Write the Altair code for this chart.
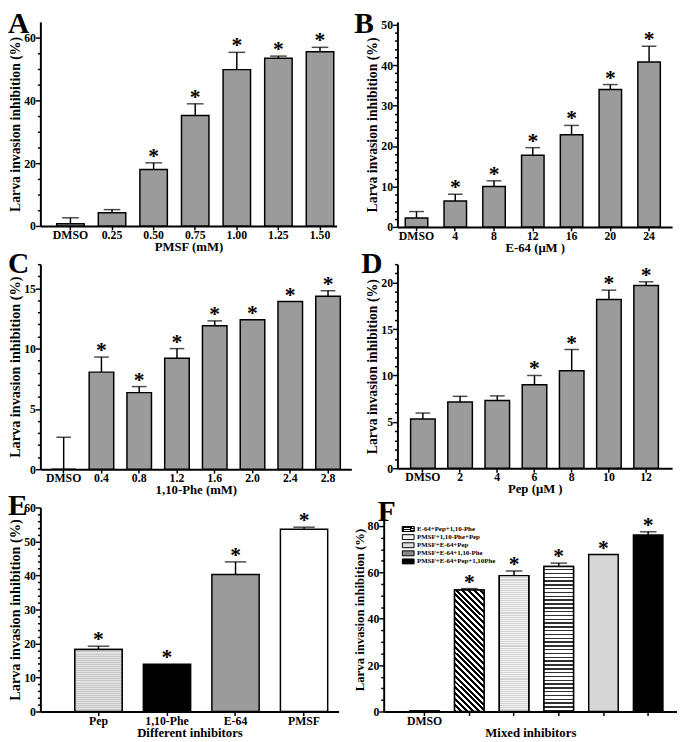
import altair as alt
import pandas as pd

FONT = "Liberation Serif"
BAR_GRAY = "#9b9b9b"
YTITLE = "Larva invasion inhibition (%)"

# ---------------- data ----------------
a_cats = ["DMSO", "0.25", "0.50", "0.75", "1.00", "1.25", "1.50"]
a_vals = [0.7, 4.2, 18.0, 35.2, 49.8, 53.4, 55.5]
a_errs = [1.9, 1.0, 2.1, 3.7, 5.5, 0.7, 1.4]
a_star = [0, 0, 1, 1, 1, 1, 1]

b_cats = ["DMSO", "4", "8", "12", "16", "20", "24"]
b_vals = [2.2, 6.4, 10.0, 17.7, 22.8, 34.0, 40.8]
b_errs = [1.6, 1.7, 1.4, 1.9, 2.3, 1.2, 3.9]
b_star = [0, 1, 1, 1, 1, 1, 1]

c_cats = ["DMSO", "0.4", "0.8", "1.2", "1.6", "2.0", "2.4", "2.8"]
c_vals = [0.0, 8.05, 6.35, 9.2, 11.9, 12.4, 13.9, 14.35]
c_errs = [2.65, 1.25, 0.5, 0.8, 0.4, 0.0, 0.0, 0.45]
c_star = [0, 1, 1, 1, 1, 1, 1, 1]

d_cats = ["DMSO", "2", "4", "6", "8", "10", "12"]
d_vals = [5.3, 7.15, 7.3, 9.0, 10.5, 18.2, 19.7]
d_errs = [0.65, 0.6, 0.5, 1.0, 2.3, 1.0, 0.4]
d_star = [0, 0, 0, 1, 1, 1, 1]

e_cats = ["Pep", "1,10-Phe", "E-64", "PMSF"]
e_vals = [18.2, 13.9, 40.3, 53.6]
e_errs = [1.0, 0.0, 3.7, 0.6]
e_star = [1, 1, 1, 1]
e_fill = ["#d6d6d6", "#000000", BAR_GRAY, "#ffffff"]

f_cats = ["DMSO", "E-64+Pep+1,10-Phe", "PMSF+1,10-Phe+Pep", "PMSF+E-64+Pep",
          "PMSF+E-64+1,10-Phe", "PMSF+E-64+Pep+1,10Phe"]
f_vals = [0.3, 52.4, 58.6, 62.5, 67.7, 76.1]
f_errs = [0.0, 0.6, 2.0, 1.5, 0.0, 1.4]
f_star = [0, 1, 1, 1, 1, 1]
f_fill = ["#ffffff", "#555555", "#eeeeee", "#dddddd", "#d3d3d3", "#000000"]
f_legend_names = f_cats[1:]
f_legend_rows = [0, 1, 2, 3, 4]
f_legend_cols = ["#4a4a4a", "#f2f2f2", "#dcdcdc", "#8a8a8a", "#000000"]


def stripes(n, c1, c2, frac):
    stops = []
    for k in range(n):
        o0, o1, o2 = k / n, (k + frac) / n, (k + 1) / n
        stops += [{"offset": o0, "color": c1}, {"offset": o1, "color": c1},
                  {"offset": o1, "color": c2}, {"offset": o2, "color": c2}]
    return stops


def make_panel(letter, lx, ly, cats, vals, errs, stars, xtitle, ymax, tick_max, major, minor,
               w, h, pi, po, al, cap, ytsize=14, fill=None, overlays=(), xlabel_expr=None,
               extra_layers=(), indep_y=False):
    df = pd.DataFrame({"cat": cats, "val": vals, "err": errs, "star": stars})
    base = alt.Chart(df).transform_calculate(up="datum.val + datum.err")

    ax_kw = dict(labelAngle=0, tickSize=4, labelPadding=0, titlePadding=0, labelOverlap=False)
    if xlabel_expr:
        ax_kw["labelExpr"] = xlabel_expr
    X = alt.X("cat:N", sort=cats, title=xtitle,
              scale=alt.Scale(paddingInner=pi, paddingOuter=po, align=al),
              axis=alt.Axis(**ax_kw))
    nmin = int(round(tick_max / minor))
    vals_ax = [k * minor for k in range(nmin + 1)]
    yaxis = alt.Axis(values=vals_ax, labelOverlap=False, labelFlush=False,
                     labelExpr=f"datum.value % {major} === 0 ? datum.label : ''",
                     tickSize={"condition": {"test": f"datum.value % {major} === 0", "value": 5},
                               "value": 3},
                     labelPadding=0, titlePadding=1, titleFontSize=ytsize)

    def Y(field, main=False):
        ax = yaxis if (main or not indep_y) else None
        return alt.Y(f"{field}:Q", title=YTITLE, axis=ax,
                     scale=alt.Scale(domain=[0, ymax], nice=False, zero=True))

    layers = []
    if fill is None:
        bars = base.mark_bar(fill=BAR_GRAY, stroke="black", strokeWidth=1.5).encode(
            x=X, y=Y("val", True))
    else:
        bars = base.mark_bar(stroke="black", strokeWidth=1.5).encode(
            x=X, y=Y("val", True), fill=fill)
    layers.append(bars)
    for cat, grad in overlays:
        layers.append(base.transform_filter(alt.datum.cat == cat)
                      .mark_bar(fill=grad, stroke="black", strokeWidth=1.5)
                      .encode(x=X, y=Y("val")))
    eb = base.transform_filter("datum.err > 0")
    layers.append(eb.mark_rule(color="black", strokeWidth=1.5).encode(
        x=X, y=Y("val"), y2="up:Q"))
    layers.append(eb.mark_tick(color="black", thickness=1.5, size=cap).encode(
        x=X, y=Y("up")))
    layers.append(base.transform_filter("datum.star > 0")
                  .mark_text(text="*", font=FONT, fontSize=22, fontWeight="bold",
                             baseline="alphabetic", dy=0, color="black")
                  .encode(x=X, y=Y("up")))
    layers.extend(extra_layers)
    # panel letter
    layers.append(alt.Chart(pd.DataFrame({"t": [letter]})).mark_text(
        font=FONT, fontSize=30, fontWeight="bold", color="black",
        align="left", baseline="alphabetic").encode(
        text="t:N", x=alt.value(lx), y=alt.value(ly)))
    ch = alt.layer(*layers).properties(width=w, height=h)
    if indep_y:
        ch = ch.resolve_scale(y="independent")
    return ch


pA = make_panel("A", -33, 11, a_cats, a_vals, a_errs, a_star, "PMSF (mM)", 65, 60, 20, 5,
                302, 208, 0.34, 0.231, 0.85, 17, ytsize=14)
pB = make_panel("B", -44, 11, b_cats, b_vals, b_errs, b_star, "E-64 (μM )", 50.7, 50, 10, 2,
                280, 209, 0.42, 0.253, 0.4, 15, ytsize=14)
pC = make_panel("C", -33, 9, c_cats, c_vals, c_errs, c_star, "1,10-Phe  (mM)", 17, 17, 5, 1,
                317, 209, 0.35, 0.292, 0.5, 15, ytsize=14.5)
pD = make_panel("D", -37, 9, d_cats, d_vals, d_errs, d_star, "Pep  (μM )", 22, 22, 5, 1,
                280, 208, 0.34, 0.361, 0.49, 15, ytsize=14)

e_fill_enc = alt.Fill("cat:N", scale=alt.Scale(domain=e_cats, range=e_fill), legend=None)
e_pep = {"gradient": "linear", "x1": 0, "y1": 0, "x2": 0, "y2": 1,
         "stops": stripes(32, "#e2e2e2", "#c8c8c8", 0.5)}
pE = make_panel("E", -33, 8, e_cats, e_vals, e_errs, e_star, "Different inhibitors",
                60, 60, 10, 2, 304, 208, 0.31, 0.331, 0.76, 22, ytsize=14.5,
                fill=e_fill_enc, overlays=[("Pep", e_pep)])

f_diag = {"gradient": "linear", "x1": 0, "y1": 1, "x2": 0.284, "y2": -0.173,
          "stops": stripes(26, "#000000", "#ffffff", 0.5)}
f_dot = {"gradient": "linear", "x1": 0, "y1": 0, "x2": 0, "y2": 1,
         "stops": stripes(70, "#f4f4f4", "#d2d2d2", 0.5)}
f_hstr = {"gradient": "linear", "x1": 0, "y1": 0, "x2": 0, "y2": 1,
          "stops": stripes(38, "#ffffff", "#303030", 0.62)}
leg_diag = {"gradient": "linear", "x1": 0, "y1": 1, "x2": 0.5, "y2": -0.5,
            "stops": stripes(4, "#000000", "#ffffff", 0.6)}

f_fill_enc = alt.Fill("cat:N", scale=alt.Scale(domain=f_cats, range=f_fill), legend=None)

# legend of panel F, drawn as its own small layers
leg_df = pd.DataFrame({"name": f_legend_names, "row": f_legend_rows, "col": f_legend_cols})
leg_y = alt.Y("row:O", axis=None,
              scale=alt.Scale(type="point", domain=f_legend_rows, range=[22, 55], padding=0))
leg_shape = "M-1,-0.42H1V0.42H-1Z"
leg_sym = alt.Chart(leg_df).mark_point(
    shape=leg_shape, size=144, filled=True, opacity=1,
    stroke="black", strokeWidth=1).encode(
    x=alt.value(25), y=leg_y, fill=alt.Fill("col:N", scale=None))
leg_sym_hatch = alt.Chart(leg_df).transform_filter("datum.row == 0").mark_point(
    shape=leg_shape, size=144, filled=True, opacity=1, fill=leg_diag,
    stroke="black", strokeWidth=1).encode(x=alt.value(25), y=leg_y)
leg_txt = alt.Chart(leg_df).mark_text(
    align="left", baseline="middle", font=FONT, fontSize=7, fontWeight="bold",
    color="black").encode(x=alt.value(34), y=leg_y, text="name:N")

pF = make_panel("F", -6, 14, f_cats, f_vals, f_errs, f_star, "Mixed inhibitors",
                88, 80, 20, 5, 299, 208, 0.34, 0.45, 0.65, 17, ytsize=13,
                fill=f_fill_enc,
                overlays=[(f_cats[1], f_diag), (f_cats[2], f_dot), (f_cats[3], f_hstr)],
                xlabel_expr="datum.label == 'DMSO' ? 'DMSO' : ''",
                extra_layers=[leg_sym, leg_sym_hatch, leg_txt], indep_y=True)

row1 = alt.hconcat(pA, pB, spacing=18)
row2 = alt.hconcat(pC, pD, spacing=10)
row3 = alt.hconcat(pE, pF, spacing=15)

chart = alt.vconcat(row1, row2, row3, spacing=-5).properties(
    padding={"left": 0, "top": -6, "right": 0, "bottom": 0}
).configure_view(stroke=None).configure_axis(
    grid=False, domainColor="black", domainWidth=2, tickColor="black", tickWidth=1.5,
    labelFont=FONT, labelFontSize=12, labelFontWeight="bold", labelColor="black",
    titleFont=FONT, titleFontSize=13, titleFontWeight="bold", titleColor="black"
).configure_text(font=FONT)

chart.save("out.html", embed_options={"renderer": "svg", "actions": False})
